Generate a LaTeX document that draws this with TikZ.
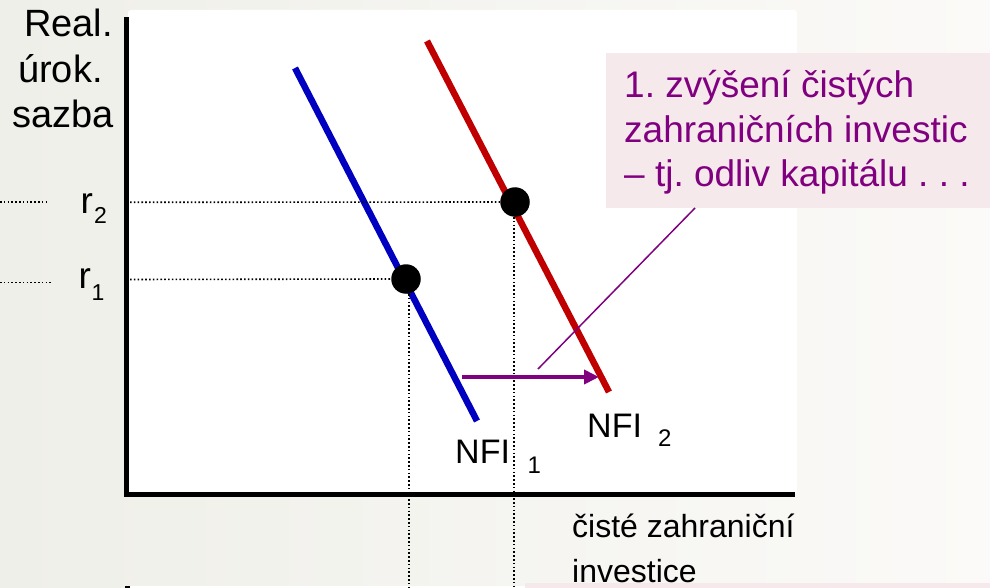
\documentclass[tikz,border=0pt]{standalone}
\usepackage{fontspec}
\setmainfont{Liberation Sans}
\usetikzlibrary{arrows.meta}
\frenchspacing
\definecolor{bgL}{HTML}{EFEFE9}
\definecolor{bgR}{HTML}{FBFAF8}
\definecolor{pinkbox}{HTML}{F6E9EB}
\definecolor{purp}{HTML}{800080}
\definecolor{blu}{HTML}{0000C0}
\definecolor{rd}{HTML}{C00000}
\begin{document}
\begin{tikzpicture}[x=1pt,y=-1pt,
  txt/.style={inner sep=0pt,anchor=base west,text=black},
  dotline/.style={line width=1.6pt,dash pattern=on 1.6pt off 2.2pt,black},
  eqdot/.style={circle,fill=black,inner sep=0pt,minimum size=29.5pt},
  curve/.style={line width=6.5pt},
  sz/.style={font=\fontsize{#1}{#1}\selectfont\frenchspacing}]
\useasboundingbox (0,0) rectangle (990,588);
\shade[left color=bgL,right color=bgR] (0,0) rectangle (990,588);
% plot area
\fill[white,rounded corners=3pt] (128,10) rectangle (797,494);
% bottom strips
\fill[white] (128,586) rectangle (525,588);
\fill[pinkbox] (525,583) rectangle (990,588);
\fill[black] (125,586) rectangle (130,588);
% callout box
\fill[pinkbox] (606,53) rectangle (990,208);
% axes
\coordinate (ytop) at (126.3,17);
\coordinate (orig) at (126.3,494.3);
\coordinate (xend) at (795,494.3);
\draw[line width=4.6pt] (ytop) -- (orig) -- (xend);
% curves
\coordinate (b1) at (295,68);
\coordinate (b2) at (477,421);
\coordinate (r1a) at (427,41);
\coordinate (r2a) at (609,392);
\draw[curve,blu] (b1) -- (b2);
\draw[curve,rd] (r1a) -- (r2a);
% equilibrium dots
\node[eqdot] (e1) at (406,279) {};
\node[eqdot] (e2) at (515,202) {};
% dotted guides
\coordinate (h2a) at (0,202.3);  \coordinate (h2b) at (48,202.3);
\coordinate (h1a) at (0,282.5);  \coordinate (h1b) at (52,282.5);
\coordinate (h2c) at (130,202.3); \coordinate (h1c) at (130,279.5);
\coordinate (v1b) at (409,588);   \coordinate (v2b) at (514,588);
\draw[dotline] (h2a) -- (h2b);
\draw[dotline] (h1a) -- (h1b);
\draw[dotline] (h2c) -- (e2.west);
\draw[dotline] (h1c) -- (e1.west);
\draw[dotline] (e1.south -| v1b) -- (v1b);
\draw[dotline] (e2.south -| v2b) -- (v2b);
% shift arrow
\coordinate (as) at (462,377);
\coordinate (ae) at (599,377);
\draw[purp,line width=4pt,-{Triangle[length=15pt,width=14pt]}] (as) -- (ae);
% axis labels
\node[txt,sz=38] (l1) at (24,37) {Real.};
\node[txt,sz=38] (l2) at (18,83) {úrok.};
\node[txt,sz=38] (l3) at (12,128) {sazba};
\node[txt,sz=37] (r2l) at (80.5,213) {r};
\node[txt,sz=23] (r2s) at (94,223) {2};
\node[txt,sz=37] (r1l) at (78.5,288) {r};
\node[txt,sz=23] (r1s) at (91.5,300) {1};
\node[txt,sz=34] (n1) at (455,463) {NFI};
\node[txt,sz=24] (n1s) at (527.5,473) {1};
\node[txt,sz=34] (n2) at (587,437) {NFI};
\node[txt,sz=24] (n2s) at (658,446) {2};
\node[txt,sz=32] (x1) at (572,537) {čisté zahraniční};
\node[txt,sz=32] (x2) at (572,582) {investice};
% callout text
\node[txt,sz=37,text=purp] (c1) at (624,98) {1. zvýšení čistých};
\node[txt,sz=37,text=purp] (c2) at (624,142.5) {zahraničních investic};
\node[txt,sz=37,text=purp] (c3) at (624,187) {– tj. odliv kapitálu . . .};
\coordinate (cp) at (695,208);
\coordinate (cq) at (538,369);
\draw[purp,line width=1.5pt] (cp) -- (cq);
\end{tikzpicture}
\end{document}
